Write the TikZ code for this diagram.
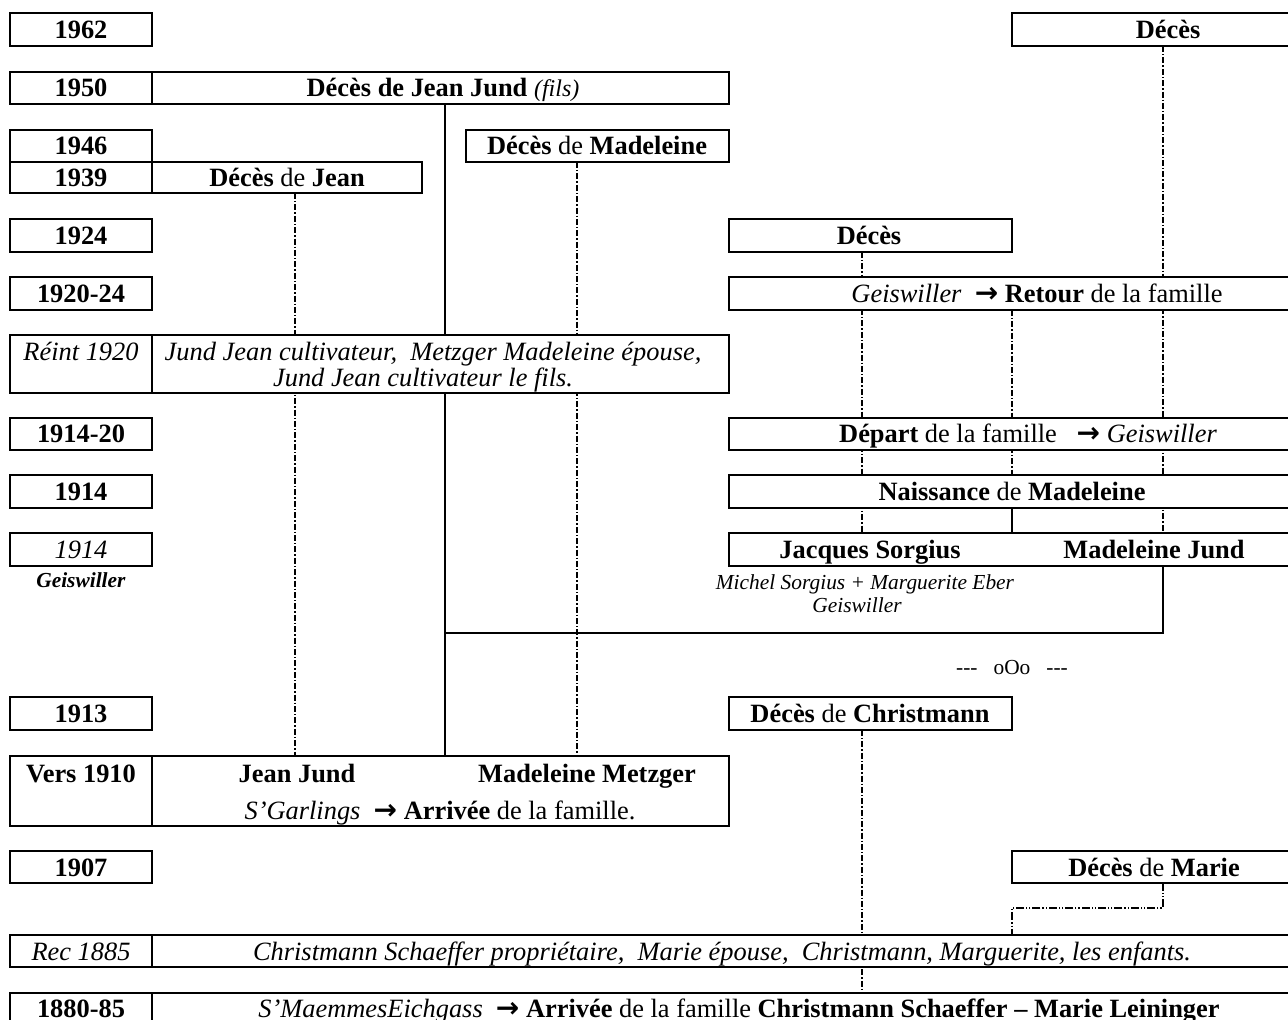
\documentclass[tikz,border=0pt]{standalone}
\usepackage{fontspec}
\setmainfont{Liberation Serif}
\newfontfamily\symf{DejaVu Sans}
\usetikzlibrary{backgrounds}
\newcommand\arr{{\symf\bfseries\fontsize{14pt}{14pt}\selectfont →}}
\newcommand\bx[5]{\node[box,minimum width={(#4-#2)*0.5pt},minimum height={(#5-#3)*0.5pt}] (#1) at ({(#2+#4)/2},{(#3+#5)/2}) {};}
\begin{document}
\begin{tikzpicture}[x=0.5pt,y=-0.5pt,
  box/.style={draw, fill=white, line width=0.8pt, inner sep=0pt, outer sep=0pt},
  t/.style={inner sep=0pt, anchor=base, font=\fontsize{13.2pt}{15pt}\selectfont},
  ts/.style={inner sep=0pt, anchor=base, font=\fontsize{10.7pt}{12pt}\selectfont},
  dd/.style={line width=0.8pt, dash pattern=on 3pt off 1pt on 0.7pt off 1pt},
  ddd/.style={line width=0.8pt, dash pattern=on 4pt off 1pt on 0.6pt off 1pt on 0.6pt off 1pt},
  sl/.style={line width=0.6pt},
  wl/.style={line width=0.9pt}]
\useasboundingbox (0,0) rectangle (1288,1020);
\clip (0,0) rectangle (1288,1020);
% columns
\coordinate (cJ) at (295,0);
\coordinate (cF) at (445,0);
\coordinate (cMM) at (577,0);
\coordinate (cS) at (862,0);
\coordinate (cD) at (1012,0);
\coordinate (cMJ) at (1163,0);
\coordinate (wed) at (445,633);
\coordinate (mar) at (1012,908);
% boxes
\bx{y1962}{10}{13}{152}{46}
\bx{d1962}{1012}{13}{1300}{46}
\bx{y1950}{10}{72}{152}{104}
\bx{d1950}{152}{72}{729}{104}
\bx{y1946}{10}{130}{152}{162}
\bx{dmad}{466}{130}{729}{162}
\bx{y1939}{10}{162}{152}{193}
\bx{djean}{152}{162}{422}{193}
\bx{y1924}{10}{219}{152}{252}
\bx{d1924}{729}{219}{1012}{252}
\bx{y2024}{10}{277}{152}{310}
\bx{r2024}{729}{277}{1300}{310}
\bx{yreint}{10}{335}{152}{393}
\bx{reint}{152}{335}{729}{393}
\bx{y1420}{10}{418}{152}{450}
\bx{dep}{729}{418}{1300}{450}
\bx{y1914}{10}{475}{152}{508}
\bx{nais}{729}{475}{1300}{508}
\bx{y1914i}{10}{533}{152}{566}
\bx{jm}{729}{533}{1300}{566}
\bx{y1913}{10}{697}{152}{730}
\bx{dchr}{729}{697}{1012}{730}
\bx{y1910}{10}{756}{152}{826}
\bx{v1910}{152}{756}{729}{826}
\bx{y1907}{10}{851}{152}{883}
\bx{dmarie}{1012}{851}{1300}{883}
\bx{yrec}{10}{935}{152}{967}
\bx{rec}{152}{935}{1300}{967}
\bx{y1880}{10}{993}{152}{1040}
\bx{arr}{152}{993}{1300}{1040}
% connectors
\begin{scope}[on background layer]
\fill[white] (0,0) rectangle (1288,1020);
\draw[dd] (djean.south -| cJ) -- (v1910.north -| cJ);
\draw[sl] (d1950.south -| cF) -- (v1910.north -| cF);
\draw[dd] (dmad.south -| cMM) -- (v1910.north -| cMM);
\draw[dd] (d1962.south -| cMJ) -- (jm.north -| cMJ);
\draw[dd] (d1924.south -| cS) -- (jm.north -| cS);
\draw[dd] (r2024.south -| cD) -- (nais.north -| cD);
\draw[sl] (nais.south -| cD) -- (jm.north -| cD);
\draw[dd] (dchr.south -| cS) -- (arr.north -| cS);
\end{scope}
\draw[wl] (jm.south -| cMJ) |- (wed);
\draw[ddd] (dmarie.south -| cMJ) |- (mar) -- (rec.north -| cD);
% texts
\node[t] (t1962) at (81,38.5) {\textbf{1962}};
\node[t] (td1962) at (1168,38.5) {\textbf{Décès}};
\node[t] (t1950) at (81,97) {\textbf{1950}};
\node[t] (td1950) at (443,97) {\textbf{Décès de Jean Jund} {\itshape\fontsize{12pt}{13pt}\selectfont (fils)}};
\node[t] (t1946) at (81,155) {\textbf{1946}};
\node[t] (tdmad) at (597,155) {\textbf{Décès} de \textbf{Madeleine}};
\node[t] (t1939) at (81,186.5) {\textbf{1939}};
\node[t] (tdjean) at (287,186.5) {\textbf{Décès} de \textbf{Jean}};
\node[t] (t1924) at (81,244.5) {\textbf{1924}};
\node[t] (td1924) at (869,244.5) {\textbf{Décès}};
\node[t] (t2024) at (81,302.5) {\textbf{1920-24}};
\node[t] (tr2024) at (1037,302.5) {\textit{Geiswiller}\ \ \arr\ \textbf{Retour} de la famille};
\node[t] (treint) at (81,361) {\textit{Réint 1920}};
\node[t] (treint1) at (433,361) {\textit{Jund Jean cultivateur,\ \ Metzger Madeleine épouse,}};
\node[t] (treint2) at (423,387) {\textit{Jund Jean cultivateur le fils.}};
\node[t] (t1420) at (81,443) {\textbf{1914-20}};
\node[t] (tdep) at (1028,443) {\textbf{Départ} de la famille\ \ \ \arr\ \textit{Geiswiller}};
\node[t] (t1914) at (81,500.5) {\textbf{1914}};
\node[t] (tnais) at (1012,500.5) {\textbf{Naissance} de \textbf{Madeleine}};
\node[t] (t1914i) at (81,558.5) {\textit{1914}};
\node[ts] (tgeis) at (81,587) {\textbf{\textit{Geiswiller}}};
\node[t] (tjs) at (870,558.5) {\textbf{Jacques Sorgius}};
\node[t] (tmj) at (1154,558.5) {\textbf{Madeleine Jund}};
\node[ts] (tmich) at (865,589) {\textit{Michel Sorgius + Marguerite Eber}};
\node[ts] (tgeis2) at (857,612) {\textit{Geiswiller}};
\node[ts] (toOo) at (1012,674) {-{}-{}-\ \ \ oOo\ \ \ -{}-{}-};
\node[t] (t1913) at (81,722.5) {\textbf{1913}};
\node[t] (tdchr) at (870,722.5) {\textbf{Décès} de \textbf{Christmann}};
\node[t] (t1910) at (81,782) {\textbf{Vers 1910}};
\node[t] (tjj) at (297,782) {\textbf{Jean Jund}};
\node[t] (tmm) at (587,782) {\textbf{Madeleine Metzger}};
\node[t] (tsg) at (440,819) {\textit{S’Garlings}\ \ \arr\ \textbf{Arrivée} de la famille.};
\node[t] (t1907) at (81,876) {\textbf{1907}};
\node[t] (tdmarie) at (1154,876) {\textbf{Décès} de \textbf{Marie}};
\node[t] (trec) at (81,960) {\textit{Rec 1885}};
\node[t] (trec2) at (722,960) {\textit{Christmann Schaeffer propriétaire,\ \ Marie épouse,\ \ Christmann, Marguerite, les enfants.}};
\node[t] (t1880) at (81,1017) {\textbf{1880-85}};
\node[t] (tarr) at (739,1017) {\textit{S’MaemmesEichgass}\ \ \arr\ \textbf{Arrivée} de la famille \textbf{Christmann Schaeffer – Marie Leininger}};
\end{tikzpicture}
\end{document}
